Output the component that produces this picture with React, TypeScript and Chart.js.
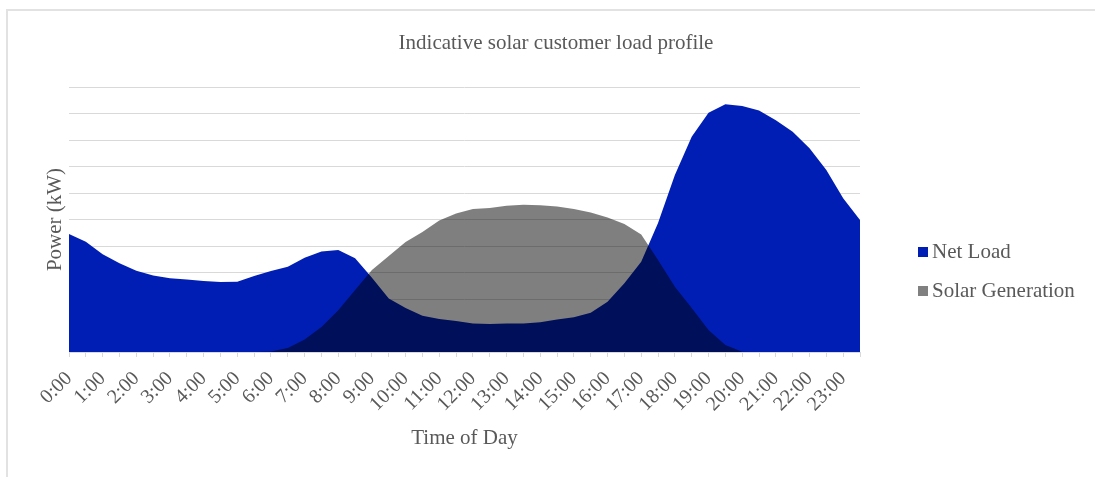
import React, { useEffect, useRef } from "react";
import { Chart, registerables } from "chart.js";

Chart.register(...registerables);

const timeLabels = [
  "0:00", "0:30", "1:00", "1:30", "2:00", "2:30", "3:00", "3:30",
  "4:00", "4:30", "5:00", "5:30", "6:00", "6:30", "7:00", "7:30",
  "8:00", "8:30", "9:00", "9:30", "10:00", "10:30", "11:00", "11:30",
  "12:00", "12:30", "13:00", "13:30", "14:00", "14:30", "15:00", "15:30",
  "16:00", "16:30", "17:00", "17:30", "18:00", "18:30", "19:00", "19:30",
  "20:00", "20:30", "21:00", "21:30", "22:00", "22:30", "23:00", "23:30",
];

const netLoad = [
  4.45, 4.16, 3.69, 3.35, 3.07, 2.89, 2.78, 2.74,
  2.68, 2.64, 2.65, 2.87, 3.06, 3.22, 3.56, 3.79,
  3.85, 3.54, 2.8, 2.02, 1.66, 1.37, 1.25, 1.17,
  1.08, 1.06, 1.08, 1.08, 1.12, 1.23, 1.31, 1.48,
  1.9, 2.59, 3.41, 4.87, 6.68, 8.12, 9.03, 9.35,
  9.28, 9.11, 8.75, 8.31, 7.69, 6.87, 5.8, 4.98,
];

const solarGeneration = [
  0, 0, 0, 0, 0, 0, 0, 0,
  0, 0, 0, 0, 0.02, 0.15, 0.47, 0.94,
  1.58, 2.34, 3.09, 3.62, 4.15, 4.53, 4.96, 5.23,
  5.4, 5.43, 5.52, 5.56, 5.54, 5.49, 5.4, 5.26,
  5.08, 4.83, 4.43, 3.47, 2.46, 1.66, 0.83, 0.26,
  0.01, 0, 0, 0, 0, 0, 0, 0,
];

const seriesNames = ["Net Load", "Solar Generation"];
const chartTitle = "Indicative solar customer load profile";

const BLUE = "#001EB4";
const SOLAR_FILL = "rgba(0,0,0,0.5)";
const TEXT = "#595959";
const GRID = "#d9d9d9";
const FONT = '"Liberation Serif", "Times New Roman", serif';

const overlayPlugin = {
  id: "overlay",
  afterDraw(chart: any) {
    const ctx = chart.ctx;
    ctx.save();
    ctx.fillStyle = TEXT;
    ctx.font = `21px ${FONT}`;
    ctx.textAlign = "center";
    ctx.textBaseline = "middle";
    ctx.fillText(chartTitle, 556, 43);

    const items = [
      { name: seriesNames[0], color: BLUE, y: 247 },
      { name: seriesNames[1], color: "#808080", y: 286 },
    ];
    ctx.textAlign = "left";
    for (const it of items) {
      ctx.fillStyle = it.color;
      ctx.fillRect(918, it.y, 10, 10);
      ctx.fillStyle = TEXT;
      ctx.fillText(it.name, 932, it.y + 5);
    }
    ctx.restore();
  },
};

export default function App() {
  const ref = useRef<HTMLCanvasElement | null>(null);

  useEffect(() => {
    if (!ref.current) return;
    const chart = new Chart(ref.current, {
      type: "line",
      data: {
        labels: timeLabels,
        datasets: [
          {
            label: seriesNames[0],
            data: netLoad,
            backgroundColor: BLUE,
            borderWidth: 0,
            borderColor: "rgba(0,0,0,0)",
            fill: "origin",
            pointRadius: 0,
            tension: 0,
            order: 2,
          },
          {
            label: seriesNames[1],
            data: solarGeneration,
            backgroundColor: SOLAR_FILL,
            borderWidth: 0,
            borderColor: "rgba(0,0,0,0)",
            fill: "origin",
            pointRadius: 0,
            tension: 0,
            order: 1,
          },
        ],
      },
      options: {
        animation: false,
        responsive: false,
        maintainAspectRatio: false,
        layout: { padding: { left: 43, top: 87, right: 235, bottom: 26 } },
        plugins: {
          legend: { display: false },
          title: { display: false },
          tooltip: { enabled: false },
        },
        scales: {
          x: {
            afterFit: (s: any) => {
              s.height = 99;
            },
            grid: {
              drawOnChartArea: false,
              drawTicks: true,
              tickLength: 5,
              color: GRID,
            },
            border: { display: true, color: GRID },
            ticks: {
              autoSkip: false,
              minRotation: 45,
              maxRotation: 45,
              padding: 10,
              color: TEXT,
              font: { family: FONT, size: 20 },
              callback: (_v: any, i: number) => (i % 2 === 0 ? timeLabels[i] : ""),
            },
            title: {
              display: true,
              text: "Time of Day",
              color: TEXT,
              font: { family: FONT, size: 21 },
              padding: 0,
            },
          },
          y: {
            min: 0,
            max: 10,
            afterFit: (s: any) => {
              s.width = 26;
            },
            grid: { color: GRID, drawTicks: false },
            border: { display: false },
            ticks: { display: false, stepSize: 1 },
            title: {
              display: true,
              text: "Power (kW)",
              color: TEXT,
              font: { family: FONT, size: 21 },
              padding: 0,
            },
          },
        },
      },
      plugins: [overlayPlugin],
    });
    return () => chart.destroy();
  }, []);

  return (
    <div style={{ position: "fixed", left: 0, top: 0, width: 1095, height: 477, background: "#fff" }}>
      <div
        style={{
          position: "absolute",
          left: 6,
          top: 9,
          width: 1200,
          height: 600,
          borderLeft: "2px solid #e2e2e2",
          borderTop: "2px solid #e2e2e2",
        }}
      />
      <canvas ref={ref} width={1095} height={477} style={{ position: "absolute", left: 0, top: 0 }} />
    </div>
  );
}
